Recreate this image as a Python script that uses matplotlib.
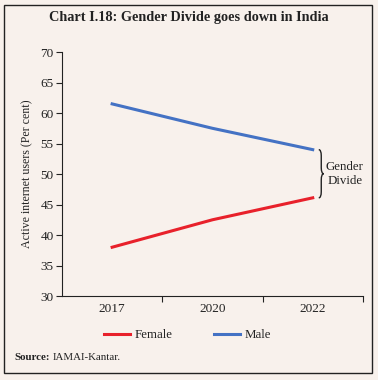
import matplotlib
matplotlib.use("Agg")
import matplotlib.pyplot as plt
from matplotlib.path import Path
from matplotlib.patches import PathPatch, Rectangle

years = ["2017", "2020", "2022"]
female = [38.0, 42.5, 46.1]
male = [61.5, 57.5, 54.0]
yticks = [30, 35, 40, 45, 50, 55, 60, 65, 70]

BG = "#f8f1ec"
RED = "#e8212b"
BLUE = "#4472c4"
FONT = ["Liberation Serif", "DejaVu Serif"]
plt.rcParams['font.family'] = FONT

fig = plt.figure(figsize=(3.78, 3.80), dpi=100, facecolor=BG)
ax = fig.add_axes([0.164, 0.221, 0.796, 0.642], facecolor=BG)

x = list(range(len(years)))
ax.plot(x, female, color=RED, lw=2.2, label="Female")
ax.plot(x, male, color=BLUE, lw=2.2, label="Male")

ax.set_xlim(-0.5, len(years) - 0.5)
ax.set_ylim(30, 70)
ax.set_yticks(yticks)
ax.set_xticks([i + 0.5 for i in x])
ax.set_xticklabels([])
ax.set_xticks(x, minor=True)
ax.set_xticklabels(years, minor=True)
ax.tick_params(axis='x', which='minor', length=0, pad=5, labelsize=9.5, colors="#222222")
ax.tick_params(axis='x', which='major', length=4, direction='out', color="#222222")
ax.tick_params(axis='y', length=4, labelsize=9.5, colors="#222222", pad=2)
for s in ["top", "right"]:
    ax.spines[s].set_visible(False)
for s in ["left", "bottom"]:
    ax.spines[s].set_color("#222222")
    ax.spines[s].set_linewidth(0.8)
ax.set_ylabel("Active internet users (Per cent)", fontsize=8.6, color="#222222", labelpad=5)

# brace between the 2022 values
x0 = 2.06
w = 0.05
yt, yb = male[-1], female[-1]
ym = (yt + yb) / 2
d = 1.0
verts = [
    (x0, yt), (x0 + w / 2, yt), (x0 + w / 2, yt - d),
    (x0 + w / 2, ym + d), (x0 + w / 2, ym), (x0 + w, ym),
    (x0 + w / 2, ym), (x0 + w / 2, ym - d),
    (x0 + w / 2, yb + d), (x0 + w / 2, yb), (x0, yb),
]
codes = [Path.MOVETO, Path.CURVE3, Path.CURVE3,
         Path.LINETO, Path.CURVE3, Path.CURVE3,
         Path.CURVE3, Path.CURVE3,
         Path.LINETO, Path.CURVE3, Path.CURVE3]
ax.add_patch(PathPatch(Path(verts, codes), fill=False, lw=1.0, color="#222222", clip_on=False))
ax.text(2.32, ym, "Gender\nDivide", ha="center", va="center", fontsize=9.3, color="#222222", linespacing=1.2)

fig.text(0.5, 0.955, "Chart I.18: Gender Divide goes down in India", ha="center", va="center",
         fontsize=10.3, fontweight="bold", color="#222222")

leg = fig.legend(loc="center", bbox_to_anchor=(0.496, 0.118), ncol=2, frameon=False,
                 fontsize=9.3, handlelength=2.0, columnspacing=3.2, handletextpad=0.35)
for t in leg.get_texts():
    t.set_color("#222222")

src = fig.text(0.037, 0.058, "Source:", fontsize=7.8, fontweight="bold", color="#222222", va="center")
fig.canvas.draw()
ext = src.get_window_extent()
fig.text((ext.x1 + 3) / fig.bbox.width, 0.058, "IAMAI-Kantar.", fontsize=7.8, color="#222222", va="center")

fig.patches.append(Rectangle((0.011, 0.018), 0.974, 0.968, transform=fig.transFigure,
                             fill=False, edgecolor="#222222", lw=1.0))

fig.savefig("out.png", dpi=100, facecolor=BG)
